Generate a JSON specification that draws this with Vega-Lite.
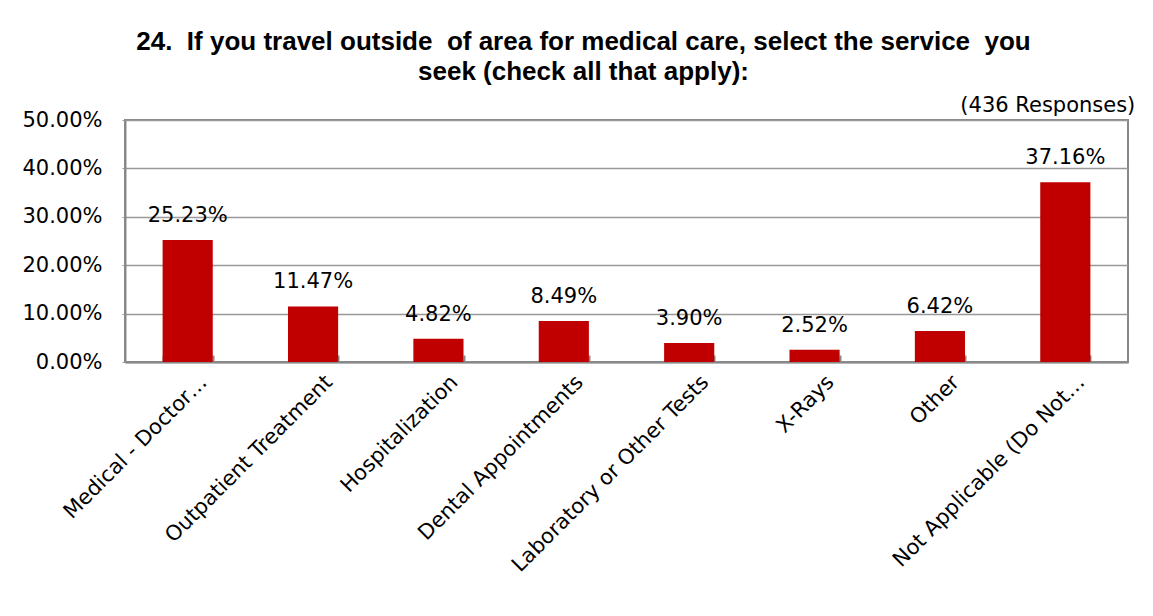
{
  "$schema": "https://vega.github.io/schema/vega-lite/v6.json",
  "width": 1003,
  "height": 242,
  "autosize": {"type": "none"},
  "padding": {"left": 125, "top": 120, "right": 25, "bottom": 254},
  "background": "white",
  "title": {
    "text": ["24.\u00a0 If you travel outside\u00a0 of area for medical care, select the service\u00a0 you", "seek (check all that apply):"],
    "font": "Liberation Sans",
    "fontSize": 26,
    "fontWeight": "bold",
    "color": "black",
    "anchor": "middle",
    "frame": "group",
    "dx": -43,
    "offset": 10,
    "lineHeight": 30
  },
  "data": {
    "values": [
      {"service": "Medical - Doctor…", "pct": 0.2523},
      {"service": "Outpatient Treatment", "pct": 0.1147},
      {"service": "Hospitalization", "pct": 0.0482},
      {"service": "Dental Appointments", "pct": 0.0849},
      {"service": "Laboratory or Other Tests", "pct": 0.039},
      {"service": "X-Rays", "pct": 0.0252},
      {"service": "Other", "pct": 0.0642},
      {"service": "Not Applicable (Do Not…", "pct": 0.3716, "note": "(436 Responses)"}
    ]
  },
  "encoding": {
    "x": {
      "field": "service",
      "type": "nominal",
      "sort": null,
      "scale": {"paddingInner": 0.6, "paddingOuter": 0.3},
      "axis": {
        "title": null,
        "labelAngle": -45,
        "labelFont": "DejaVu Sans",
        "labelFontSize": 21,
        "labelColor": "black",
        "labelLimit": 400,
        "tickBand": "extent",
        "labelOffset": 8,
        "labelPadding": 16,
        "tickSize": -7,
        "tickColor": "#888888",
        "tickWidth": 2,
        "domainColor": "#888888",
        "domainWidth": 2,
        "grid": false
      }
    },
    "y": {
      "field": "pct",
      "type": "quantitative",
      "scale": {"domain": [0, 0.5]},
      "axis": {
        "title": null,
        "values": [0, 0.1, 0.2, 0.3, 0.4, 0.5],
        "format": ".2%",
        "labelFont": "DejaVu Sans",
        "labelFontSize": 21,
        "labelColor": "black",
        "labelPadding": 20,
        "tickSize": 3,
        "tickColor": "#999999",
        "domainColor": "#888888",
        "domainWidth": 2,
        "grid": true,
        "gridColor": "#999999",
        "gridWidth": 1.5
      }
    }
  },
  "layer": [
    {"mark": {"type": "bar", "color": "#C00000"}},
    {
      "mark": {"type": "text", "dy": -14, "baseline": "bottom", "font": "DejaVu Sans", "fontSize": 21, "color": "black"},
      "encoding": {"text": {"field": "pct", "type": "quantitative", "format": ".2%"}}
    },
    {
      "transform": [{"filter": "datum.note"}],
      "mark": {"type": "text", "align": "right", "baseline": "bottom", "dx": 70, "dy": -4, "font": "DejaVu Sans", "fontSize": 21, "color": "black"},
      "encoding": {
        "y": {"datum": 0.5},
        "text": {"field": "note", "type": "nominal"}
      }
    }
  ],
  "config": {
    "view": {"stroke": "#888888", "strokeWidth": 2}
  }
}
